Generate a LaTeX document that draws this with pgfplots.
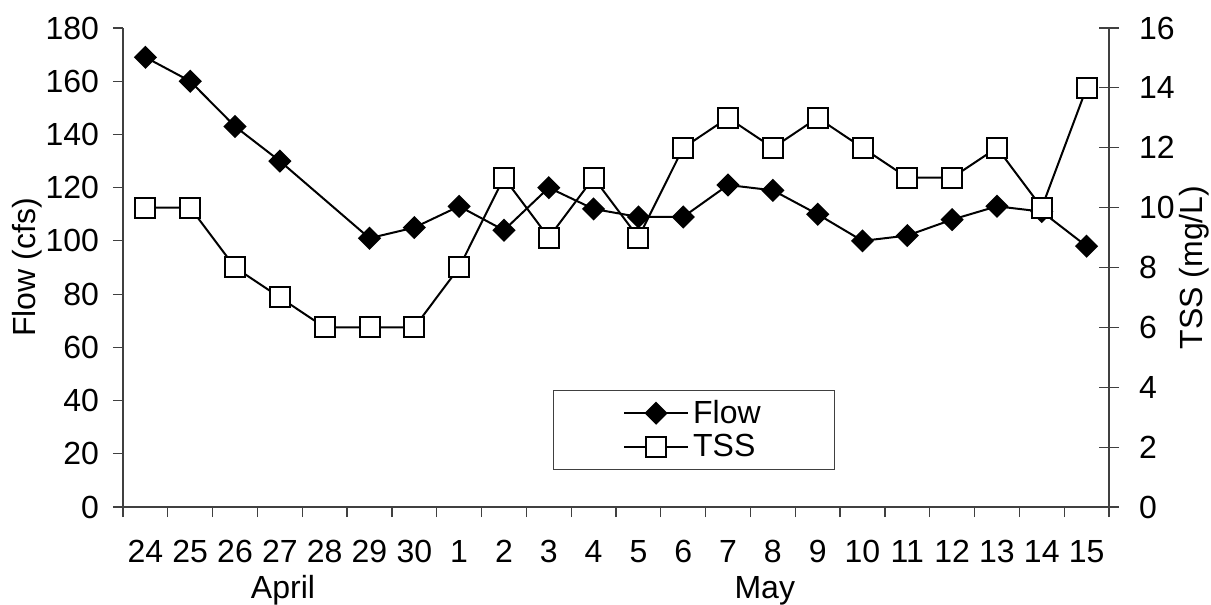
\documentclass[border=0pt]{standalone}
\usepackage{pgfplots}
\pgfplotsset{compat=1.18}
\usepackage{fontspec}
\setmainfont{Liberation Sans}

\begin{document}
\begin{tikzpicture}[font=\fontsize{16}{18}\selectfont]
\path[use as bounding box] (-61.5pt,-49pt) rectangle (544pt,253.5pt);
\pgfplotsset{
  common/.style={
    scale only axis, width=493pt, height=239.5pt,
    xmin=-0.5, xmax=21.5,
    clip=false,
    /pgf/number format/assume math mode=true,
    tick label style={font=\fontsize{16}{18}\selectfont},
    label style={font=\fontsize{16}{18}\selectfont},
    axis line style={black!75, line width=0.6pt},
    tick style={black!75, line width=0.6pt},
  },
  flowstyle/.style={black, line width=1pt, mark=square*, mark size=3.6pt,
    mark options={rotate=45, solid, fill=black}},
  tssstyle/.style={black, line width=1pt, mark=square*, mark size=5pt,
    mark options={solid, fill=white}},
}
\begin{axis}[common,
  axis x line*=bottom, axis y line*=left,
  ymin=0, ymax=180, ytick={0,20,...,180},
  xtick={-0.5,0.5,...,21.5},
  x tick label as interval,
  xticklabels={24,25,26,27,28,29,30,1,2,3,4,5,6,7,8,9,10,11,12,13,14,15},
  tick align=outside, major tick length=5pt,
  xticklabel style={yshift=-8pt},
  yticklabel style={xshift=-3.5pt},
  ylabel={Flow (cfs)},
  ylabel style={at={(axis description cs:-0.0974,0.5)}, anchor=center},
]
\addplot[flowstyle] coordinates {
(0,169)(1,160)(2,143)(3,130)(5,101)(6,105)(7,113)(8,104)(9,120)(10,112)(11,109)
(12,109)(13,121)(14,119)(15,110)(16,100)(17,102)(18,108)(19,113)(20,111)(21,98)};
\node[anchor=base] at (axis cs:3.07,0) [yshift=-45.6pt] {April};
\node[anchor=base] at (axis cs:13.82,0) [yshift=-45.6pt] {May};
\end{axis}
\begin{axis}[common,
  axis x line=none, axis y line*=right,
  ymin=0, ymax=16, ytick={0,2,...,16},
  tick align=center, major tick length=10pt,
  yticklabel style={xshift=6.5pt},
  ylabel={TSS (mg/L)},
  ylabel style={at={(axis description cs:1.0862,0.5)}, anchor=center},
  legend image code/.code={\draw[mark repeat=2,mark phase=2,#1] plot coordinates {(0pt,0pt) (16pt,0pt) (32pt,0pt)};},
  legend style={at={(0.579,0.161)}, anchor=center, draw=black!75, line width=0.6pt,
    fill=white, inner xsep=35pt, inner ysep=3pt, row sep=0pt,
    font=\fontsize{16}{18}\selectfont},
  legend cell align=left,
]
\addlegendimage{flowstyle}
\addlegendentry{Flow}
\addplot[tssstyle] coordinates {
(0,10)(1,10)(2,8)(3,7)(4,6)(5,6)(6,6)(7,8)(8,11)(9,9)(10,11)(11,9)
(12,12)(13,13)(14,12)(15,13)(16,12)(17,11)(18,11)(19,12)(20,10)(21,14)};
\addlegendentry{TSS}
\end{axis}
\end{tikzpicture}
\end{document}
